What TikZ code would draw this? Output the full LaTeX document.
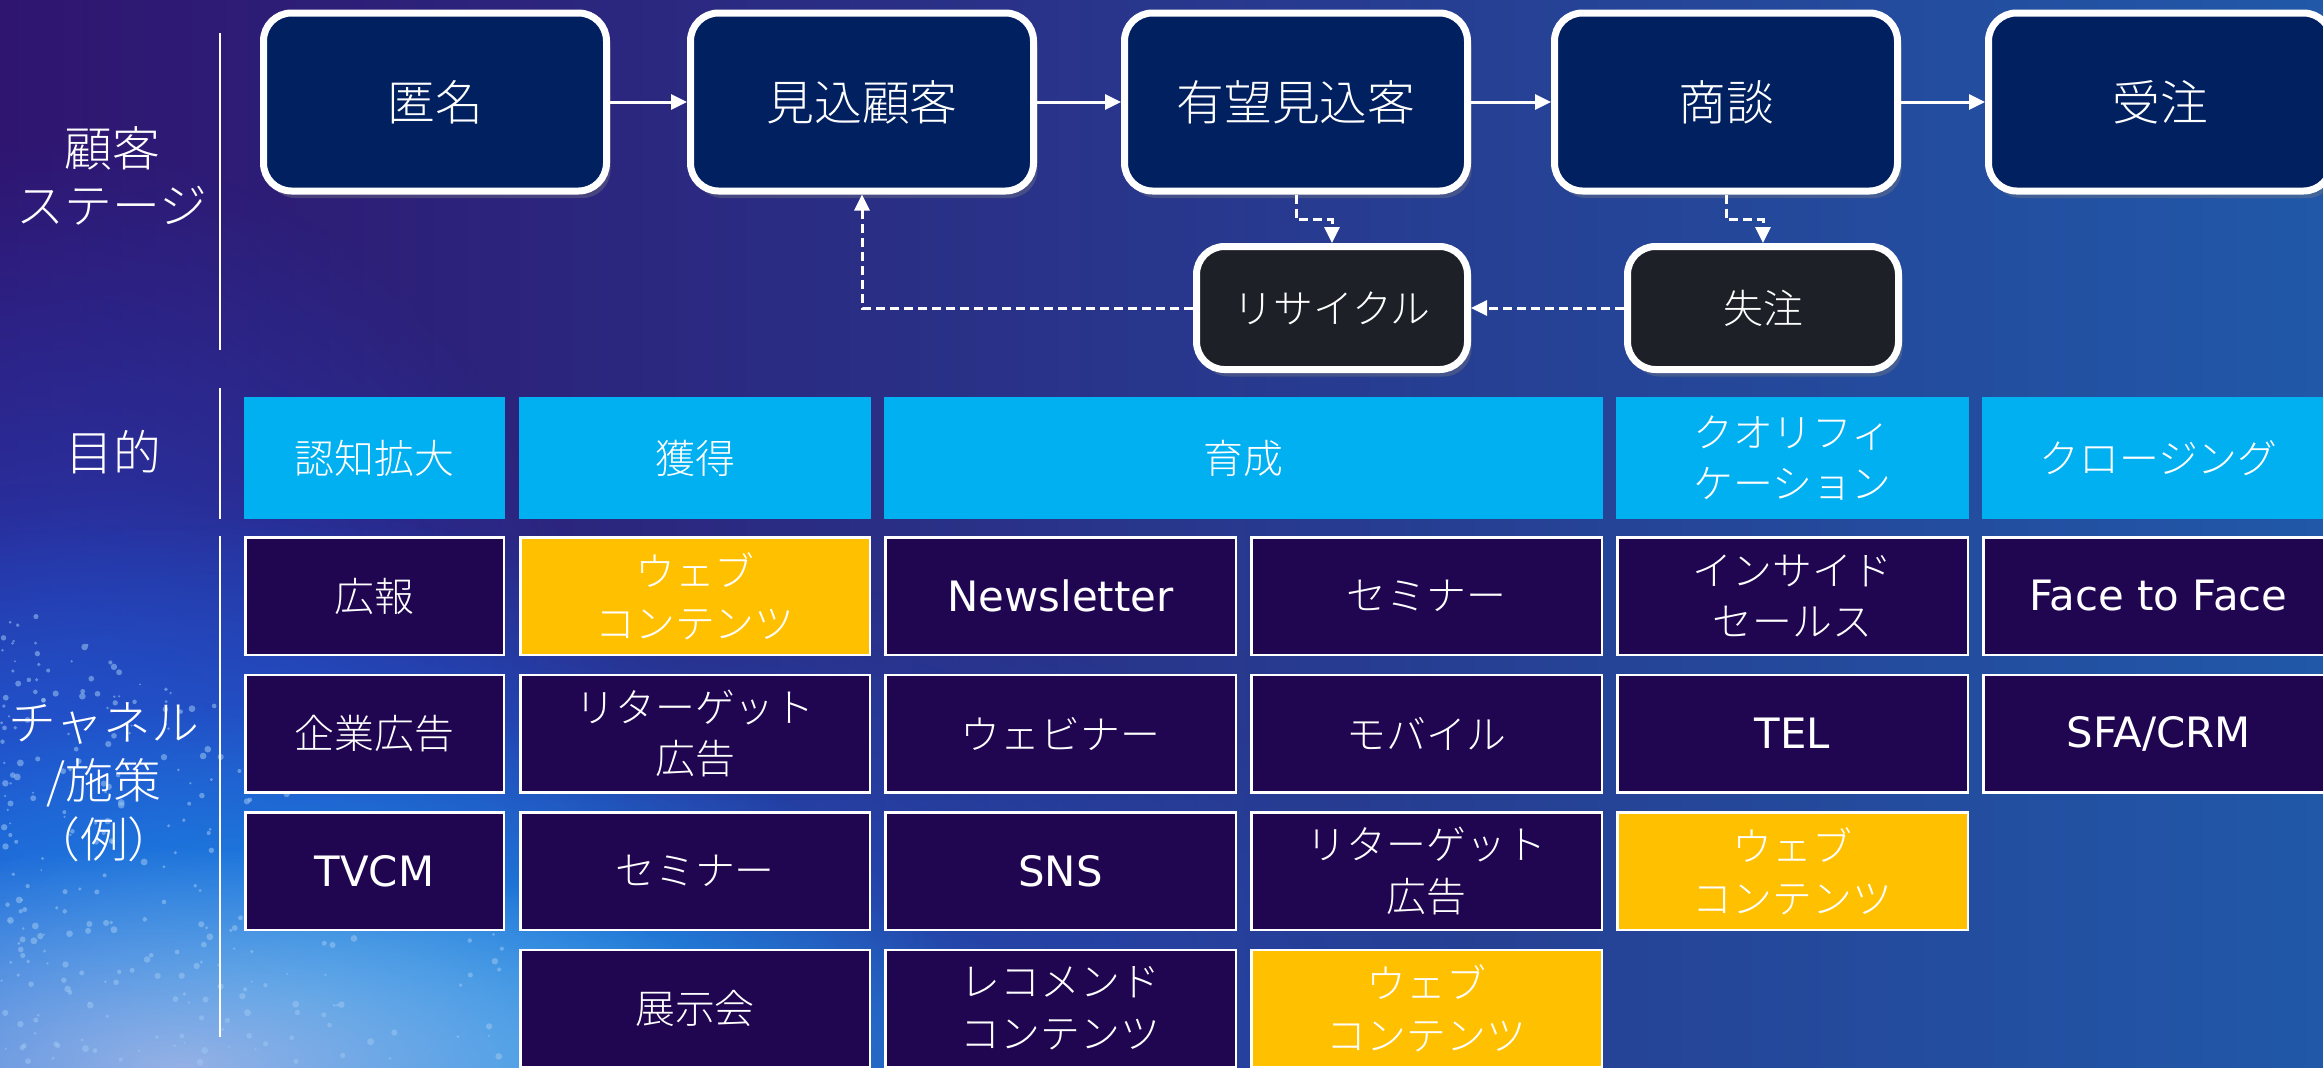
\documentclass[tikz,border=0pt]{standalone}
\usepackage{fontspec}
\setmainfont{Noto Sans CJK JP Light}
\newfontfamily\latin{DejaVu Sans}
\usetikzlibrary{arrows.meta,shadows,fadings}
\definecolor{navy}{HTML}{002060}
\definecolor{subg}{HTML}{1D2027}
\definecolor{cyanc}{HTML}{00B0F0}
\definecolor{chanc}{HTML}{200551}
\definecolor{yelc}{HTML}{FFC000}
\definecolor{bgl}{HTML}{2F1570}
\definecolor{bgm}{HTML}{2A2C86}
\definecolor{bgr}{HTML}{2158A8}
\definecolor{splA}{HTML}{1F5FD8}
\definecolor{splB}{HTML}{2448C8}
\definecolor{splC}{HTML}{A9B8E6}
\definecolor{splD}{HTML}{1C9BEA}
\definecolor{splE}{HTML}{28A8F0}
\definecolor{speck}{HTML}{9CC6F2}
\tikzfading[name=blobfade, inner color=transparent!0, outer color=transparent!100]
\newcommand{\gridfont}{\fontsize{40}{52}\selectfont}
\newcommand{\stagefont}{\fontsize{48}{56}\selectfont}
\newcommand{\labfont}{\fontsize{48}{57}\selectfont}
\newcommand{\latfont}{\latin\fontsize{42}{52}\selectfont}
\begin{document}
\begin{tikzpicture}[x=1bp,y=-1bp,
  stage/.style={draw=white, line width=7bp, rounded corners=28bp, fill=navy,
    minimum width=343bp, minimum height=178bp, text=white, font=\stagefont,
    drop shadow={shadow xshift=4bp, shadow yshift=-7bp, opacity=0.35}},
  subbox/.style={stage, fill=subg, minimum width=271bp, minimum height=123bp, font=\gridfont},
  purp/.style={fill=cyanc, minimum height=122bp, text=white, font=\gridfont, align=center, inner sep=0pt},
  chan/.style={draw=white, line width=2.5bp, fill=chanc, minimum height=117.5bp,
    minimum width=350.5bp, text=white, font=\gridfont, align=center, inner sep=0pt},
  yel/.style={chan, fill=yelc},
  lat/.style={font=\latfont},
  lab/.style={text=white, font=\labfont, align=center},
  flow/.style={white, line width=3bp, -{Triangle[length=16bp,width=15bp]}},
  dflow/.style={flow, dash pattern=on 9bp off 5bp},
  sepline/.style={white, line width=1.5bp}]
\useasboundingbox (0,0) rectangle (2323,1067);
\clip (0,0) rectangle (2323,1067);
% background
\shade[left color=bgl, middle color=bgm, right color=bgr] (0,0) rectangle (2323,1067);
\fill[splB, opacity=0.95, path fading=blobfade] (40,860) ellipse [x radius=600, y radius=720];
\fill[splA, opacity=1, path fading=blobfade] (250,1040) ellipse [x radius=1250, y radius=520];
\fill[splA, opacity=0.8, path fading=blobfade] (150,980) ellipse [x radius=700, y radius=500];
\fill[splD, opacity=0.85, path fading=blobfade] (300,1000) ellipse [x radius=650, y radius=300];
\fill[splE, opacity=0.7, path fading=blobfade] (580,1067) ellipse [x radius=520, y radius=200];
\fill[splC, opacity=0.85, path fading=blobfade] (180,1067) ellipse [x radius=600, y radius=220];
\pgfmathsetseed{12}
\foreach \i in {1,...,320}{
  \pgfmathsetmacro\rx{700*rnd*rnd}
  \pgfmathsetmacro\ry{1067-(470-0.5*\rx)*rnd}
  \pgfmathsetmacro\rr{1+2.5*rnd}
  \fill[speck, opacity=0.55] (\rx,\ry) circle[radius=\rr];
}
% left labels and separators
\node[lab] (l1) at (112,176) {顧客\\ステージ};
\node[lab] (l2) at (113,452) {目的};
\node[lab, font=\fontsize{48}{58.5}\selectfont] (l3) at (104,782) {チャネル\\/施策\\（例）};
\draw[sepline] (220,33) -- (220,350);
\draw[sepline] (220,388) -- (220,519);
\draw[sepline] (220,536) -- (220,1037);
% stage row
\node[stage] (s1) at (435,102) {匿名};
\node[stage] (s2) at (862,102) {見込顧客};
\node[stage] (s3) at (1296,102) {有望見込客};
\node[stage] (s4) at (1726,102) {商談};
\node[stage] (s5) at (2160,102) {受注};
\node[subbox] (rec) at (1332,308) {リサイクル};
\node[subbox] (lost) at (1763,308) {失注};
\draw[flow] (s1.east) -- (s2.west);
\draw[flow] (s2.east) -- (s3.west);
\draw[flow] (s3.east) -- (s4.west);
\draw[flow] (s4.east) -- (s5.west);
\draw[dflow] (s3.south) -- ++(0,25) -| (rec.north);
\draw[dflow] (s4.south) -- ++(0,25) -| (lost.north);
\draw[dflow] (lost.west) -- (rec.east);
\draw[dflow] (rec.west) -| (s2.south);
% purpose row
\node[purp, minimum width=261bp] (p1) at (374.5,458) {認知拡大};
\node[purp, minimum width=352bp] (p2) at (695,458) {獲得};
\node[purp, minimum width=719bp] (p3) at (1243.5,458) {育成};
\node[purp, minimum width=353bp] (p4) at (1792.5,458) {クオリフィ\\ケーション};
\node[purp, minimum width=353bp] (p5) at (2158.5,458) {クロージング};
% channel grid
\node[chan, minimum width=258.5bp] (c11) at (374.5,596) {広報};
\node[chan, minimum width=258.5bp] (c12) at (374.5,733.5) {企業広告};
\node[chan, lat, minimum width=258.5bp] (c13) at (374.5,871) {TVCM};
\node[yel, minimum width=349.5bp] (c21) at (695,596) {ウェブ\\コンテンツ};
\node[chan, minimum width=349.5bp] (c22) at (695,733.5) {リターゲット\\広告};
\node[chan, minimum width=349.5bp] (c23) at (695,871) {セミナー};
\node[chan, minimum width=349.5bp] (c24) at (695,1008.5) {展示会};
\node[chan, lat] (c31) at (1060.5,596) {Newsletter};
\node[chan] (c32) at (1060.5,733.5) {ウェビナー};
\node[chan, lat] (c33) at (1060.5,871) {SNS};
\node[chan] (c34) at (1060.5,1008.5) {レコメンド\\コンテンツ};
\node[chan] (c41) at (1426.5,596) {セミナー};
\node[chan] (c42) at (1426.5,733.5) {モバイル};
\node[chan] (c43) at (1426.5,871) {リターゲット\\広告};
\node[yel] (c44) at (1426.5,1008.5) {ウェブ\\コンテンツ};
\node[chan] (c51) at (1792.5,596) {インサイド\\セールス};
\node[chan, lat] (c52) at (1792.5,733.5) {TEL};
\node[yel] (c53) at (1792.5,871) {ウェブ\\コンテンツ};
\node[chan, lat] (c61) at (2158.5,596) {Face to Face};
\node[chan, lat] (c62) at (2158.5,733.5) {SFA/CRM};
\end{tikzpicture}
\end{document}
